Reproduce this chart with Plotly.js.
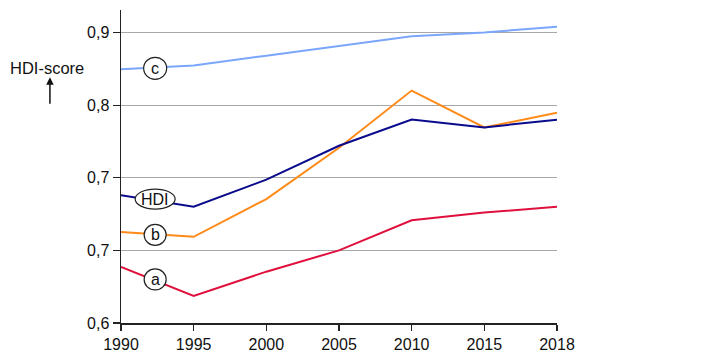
<!DOCTYPE html>
<html><head><meta charset="utf-8">
<script src="https://cdn.plot.ly/plotly-3.0.1.min.js"></script>
<style>html,body{margin:0;padding:0;background:#fff}#chart{width:717px;height:357px}</style>
</head><body><div id="chart"></div>
<script>
const years = ['1990','1995','2000','2005','2010','2015','2018'];
const seriesC = [0.862, 0.866, 0.876, 0.886, 0.896, 0.900, 0.906];
const seriesHDI = [0.732, 0.720, 0.748, 0.783, 0.810, 0.802, 0.810];
const seriesB = [0.694, 0.689, 0.728, 0.781, 0.840, 0.802, 0.817];
const seriesA = [0.658, 0.628, 0.653, 0.675, 0.706, 0.714, 0.720];
const tickVals = [0.6, 0.675, 0.75, 0.825, 0.9];
const tickText = ['0,6', '0,7', '0,7', '0,8', '0,9'];
const labels = [
  {t:'c', x:0.47, y:0.863, w:23, h:22},
  {t:'HDI', x:0.47, y:0.728, w:40, h:20},
  {t:'b', x:0.47, y:0.691, w:22, h:21},
  {t:'a', x:0.47, y:0.645, w:22, h:21}
];

const font = {family:'Liberation Sans, Arial, sans-serif', color:'#111'};
function tr(y, color){ return {x:years, y:y, type:'scatter', mode:'lines', line:{color:color, width:2}, hoverinfo:'skip', showlegend:false}; }
const data = [tr(seriesC,'#7aa6fb'), tr(seriesB,'#ff8a17'), tr(seriesA,'#e0103c'), tr(seriesHDI,'#0a0a8c')];

const shapes = labels.map(l => ({type:'circle', xref:'x', yref:'y', xsizemode:'pixel', ysizemode:'pixel',
  xanchor:l.x, yanchor:l.y, x0:-l.w/2, x1:l.w/2, y0:-l.h/2, y1:l.h/2,
  line:{color:'#222', width:1.2}, fillcolor:'#fff', layer:'above'}));
const annotations = labels.map(l => ({x:l.x, y:l.y, xref:'x', yref:'y', text:l.t, showarrow:false,
  font:Object.assign({}, font, {size:16}), xanchor:'center', yanchor:'middle'}));
annotations.push({xref:'paper', yref:'paper', x:-0.08, y:0.815, text:'HDI-score', showarrow:false,
  font:Object.assign({}, font, {size:16.5}), xanchor:'right', yanchor:'middle'});
annotations.push({xref:'paper', yref:'paper', x:-0.163, y:0.785, text:'', showarrow:true,
  arrowhead:2, arrowsize:1, arrowwidth:1.5, arrowcolor:'#111', ax:0, ay:28});

const layout = {
  width:717, height:357, margin:{l:121, r:160, t:10, b:34},
  paper_bgcolor:'#fff', plot_bgcolor:'#fff', font:font,
  xaxis:{type:'category', range:[0,6], showline:true, linecolor:'#222', linewidth:1.5,
    ticks:'outside', ticklen:6, tickcolor:'#222', tickwidth:1.2, showgrid:false, zeroline:false,
    tickfont:{size:16, color:'#111'}, fixedrange:true},
  yaxis:{range:[0.6, 0.9232], tickvals:tickVals, ticktext:tickText, showline:true, linecolor:'#222', linewidth:1.5,
    ticks:'outside', ticklen:7, tickcolor:'#222', tickwidth:1.2, showgrid:true, gridcolor:'#a8a8a8', gridwidth:1.2,
    zeroline:false, tickfont:{size:16, color:'#111'}, fixedrange:true},
  shapes:shapes, annotations:annotations
};
Plotly.newPlot('chart', data, layout, {displayModeBar:false, staticPlot:true});
</script></body></html>
